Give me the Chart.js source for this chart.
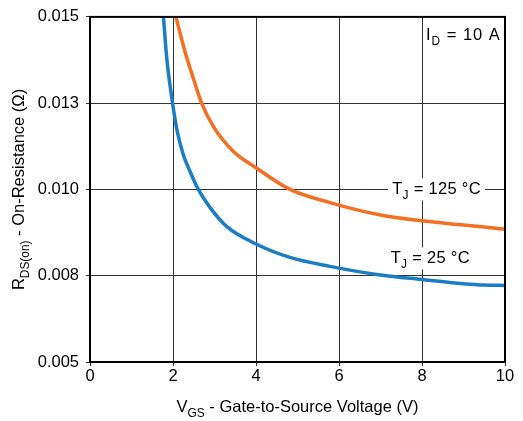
<!DOCTYPE html>
<html lang="en">
<head>
<meta charset="UTF-8">
<title>RDS(on) vs VGS</title>
<script src="https://cdn.jsdelivr.net/npm/chart.js"></script>
<style>
  html, body { margin: 0; padding: 0; background: #fff; }
  #wrap { width: 523px; height: 421px; }
</style>
</head>
<body>
<div id="wrap"><canvas id="chart" width="523" height="421"></canvas></div>
<script>
// values
const vgs25 = [1.77, 1.85, 1.99, 2.1, 2.25, 2.4, 2.61, 2.89, 3.29, 4.0, 4.82, 5.78, 7.0, 8.0, 9.0, 9.5, 10.0];
const rds25 = [0.0150, 0.0138, 0.0125, 0.0117, 0.0110, 0.01055, 0.0100, 0.00948, 0.00893, 0.00842, 0.00803, 0.00777, 0.00752, 0.00739, 0.00727, 0.00723, 0.00722];
const vgs125 = [2.07, 2.29, 2.49, 2.69, 2.97, 3.45, 4.0, 4.82, 5.78, 7.0, 8.0, 9.0, 10.0];
const rds125 = [0.0150, 0.01399, 0.01322, 0.0125, 0.01183, 0.01111, 0.01063, 0.0100, 0.00962, 0.00926, 0.00909, 0.00897, 0.00885];
const xTicks = [0, 2, 4, 6, 8, 10];
const yTicks = [0.005, 0.0075, 0.010, 0.0125, 0.015];
const yTickLabels = ['0.005', '0.008', '0.010', '0.013', '0.015'];

const FONT = '"Liberation Sans", Arial, sans-serif';
const SIZE = 16.5;

function toPoints(xs, ys) {
  return xs.map((x, i) => ({ x: x, y: ys[i] }));
}

// text with subscript parts: [[text, isSub], ...]
function measureParts(ctx, parts, size) {
  let total = 0;
  parts.forEach(p => {
    ctx.font = (p[1] ? size * 0.72 : size) + 'px ' + FONT;
    total += ctx.measureText(p[0]).width;
  });
  return total;
}

function drawParts(ctx, parts, x, y, size, align) {
  const total = measureParts(ctx, parts, size);
  let cx = align === 'center' ? x - total / 2 : align === 'right' ? x - total : x;
  ctx.textAlign = 'left';
  ctx.textBaseline = 'alphabetic';
  parts.forEach(p => {
    ctx.font = (p[1] ? size * 0.72 : size) + 'px ' + FONT;
    ctx.fillText(p[0], cx, p[1] ? y + size * 0.3 : y);
    cx += ctx.measureText(p[0]).width;
  });
}

const labelsPlugin = {
  id: 'labels',
  afterDraw(chart) {
    const ctx = chart.ctx;
    const a = chart.chartArea;
    const xs = chart.scales.x, ys = chart.scales.y;
    ctx.save();
    // frame
    ctx.strokeStyle = '#000';
    ctx.lineWidth = 2;
    ctx.strokeRect(a.left, a.top, a.right - a.left, a.bottom - a.top);

    // curve labels on white boxes
    const notes = [
      { parts: [['T', false], ['J', true], [' = 125 \u00B0C', false]], x: 8.35, y: 0.0100 },
      { parts: [['T', false], ['J', true], [' = 25 \u00B0C', false]], x: 8.2, y: 0.0080 }
    ];
    ctx.letterSpacing = '0.3px';
    notes.forEach(n => {
      const px = xs.getPixelForValue(n.x), py = ys.getPixelForValue(n.y);
      const w = measureParts(ctx, n.parts, SIZE);
      ctx.fillStyle = '#fff';
      ctx.fillRect(px - w / 2 - 4, py - 11, w + 8, 22);
      ctx.fillStyle = '#000';
      drawParts(ctx, n.parts, px, py + 5, SIZE, 'center');
    });
    ctx.letterSpacing = '1px';
    drawParts(ctx, [['I', false], ['D', true], [' = 10 A', false]],
      xs.getPixelForValue(9.9), ys.getPixelForValue(0.01448) + 5, SIZE, 'right');
    ctx.letterSpacing = '0px';

    // x axis title
    drawParts(ctx, [['V', false], ['GS', true], [' - Gate-to-Source Voltage (V)', false]],
      (a.left + a.right) / 2, 412, SIZE, 'center');

    // y axis title
    ctx.translate(24, (a.top + a.bottom) / 2);
    ctx.rotate(-Math.PI / 2);
    drawParts(ctx, [['R', false], ['DS(on)', true], [' - On-Resistance (\u03A9)', false]], 0, 0, SIZE, 'center');
    ctx.restore();
  }
};

new Chart(document.getElementById('chart'), {
  type: 'scatter',
  data: {
    datasets: [
      {
        label: 'TJ = 25 °C',
        data: toPoints(vgs25, rds25),
        showLine: true,
        borderColor: '#1b7dc3',
        borderWidth: 3.5,
        pointRadius: 0,
        cubicInterpolationMode: 'monotone'
      },
      {
        label: 'TJ = 125 °C',
        data: toPoints(vgs125, rds125),
        showLine: true,
        borderColor: '#f36f21',
        borderWidth: 3.5,
        pointRadius: 0,
        cubicInterpolationMode: 'monotone'
      }
    ]
  },
  options: {
    responsive: false,
    animation: false,
    layout: { padding: { left: 0, top: 15, right: 18, bottom: 0 } },
    plugins: { legend: { display: false }, tooltip: { enabled: false } },
    scales: {
      x: {
        type: 'linear',
        min: 0, max: 10,
        afterBuildTicks: s => { s.ticks = xTicks.map(v => ({ value: v })); },
        afterFit: s => { s.height = 59; },
        grid: { color: '#333', lineWidth: 1, tickLength: 4 },
        border: { display: false },
        ticks: { color: '#000', font: { family: FONT, size: SIZE }, padding: 1, maxRotation: 0 }
      },
      y: {
        type: 'linear',
        min: 0.005, max: 0.015,
        afterBuildTicks: s => { s.ticks = yTicks.map(v => ({ value: v })); },
        afterFit: s => { s.width = 90; },
        grid: { color: '#333', lineWidth: 1, tickLength: 4 },
        border: { display: false },
        ticks: {
          color: '#000', font: { family: FONT, size: SIZE }, padding: 7,
          callback: (v, i) => yTickLabels[i]
        }
      }
    }
  },
  plugins: [labelsPlugin]
});
</script>
</body>
</html>
